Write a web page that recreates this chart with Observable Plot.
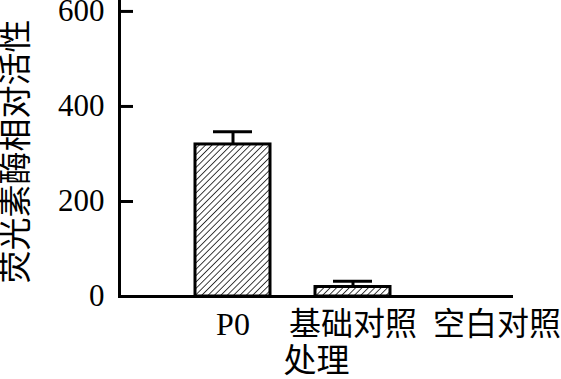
<!DOCTYPE html>
<html>
<head>
<meta charset="utf-8">
<script src="https://cdn.jsdelivr.net/npm/d3@7"></script>
<script src="https://cdn.jsdelivr.net/npm/@observablehq/plot@0.6"></script>
<style>
  html, body { margin: 0; padding: 0; background: #fff; }
</style>
</head>
<body>
<div id="chart"></div>
<script>
const categories = ["P0", "基础对照", "空白对照"];
const values = [320, 20, 0];
const errors = [27, 12, 0];
const yTicks = [0, 200, 400, 600];
const yLabel = "荧光素酶相对活性";
const xLabel = "处理";

const data = categories.map((c, i) => ({cat: c, value: values[i], top: values[i] + errors[i]}));
const font = "'Liberation Serif', 'Noto Sans CJK SC', serif";

const svg = Plot.plot({
  width: 561,
  height: 379,
  marginLeft: 119,
  marginRight: 48,
  marginTop: 0,
  marginBottom: 83,
  style: {fontFamily: font, background: "#fff", color: "#000"},
  x: {type: "band", domain: categories, range: [150, 555], padding: 0.375, label: null},
  y: {domain: [0, 623], label: null},
  marks: [
    Plot.barY(data, {x: "cat", y: "value", fill: "url(#hatch)", stroke: "black", strokeWidth: 3}),
    Plot.ruleX(data, {x: "cat", y1: "value", y2: "top", stroke: "black", strokeWidth: 3}),
    Plot.tickY(data, {x: "cat", y: "top", stroke: "black", strokeWidth: 3, insetLeft: 18, insetRight: 18}),
    Plot.ruleY([0], {stroke: "black", strokeWidth: 3}),
    Plot.frame({anchor: "left", stroke: "black", strokeWidth: 3}),
    Plot.axisY({ticks: yTicks, tickSize: 14, dx: 14, strokeWidth: 3, tickFormat: () => "", label: null}),
    Plot.axisY({ticks: yTicks, tickSize: 0, tickPadding: 15, fontSize: 31, fontFamily: font, label: null}),
    Plot.axisX({ticks: categories.slice(0, 2), tickSize: 0, tickPadding: 16, fontSize: 32, fontFamily: font, label: null}),
    Plot.axisX({ticks: categories.slice(2), tickSize: 0, tickPadding: 16, dx: 24, fontSize: 32, fontFamily: font, label: null}),
    Plot.text([yLabel], {text: d => d, frameAnchor: "left", textAnchor: "middle", lineAnchor: "middle", rotate: -90, dx: -103, dy: 3, fontSize: 33, fontFamily: font, fill: "black"}),
    Plot.text([xLabel], {text: d => d, frameAnchor: "bottom", textAnchor: "middle", lineAnchor: "middle", dy: 65, fontSize: 33, fontFamily: font, fill: "black"})
  ]
});

const defs = d3.select(svg).insert("defs", ":first-child");
const pat = defs.append("pattern")
  .attr("id", "hatch")
  .attr("patternUnits", "userSpaceOnUse")
  .attr("width", 4.5)
  .attr("height", 4.5)
  .attr("patternTransform", "rotate(45)");
pat.append("rect").attr("width", 4.5).attr("height", 4.5).attr("fill", "#fff");
pat.append("line").attr("x1", 0).attr("y1", 0).attr("x2", 0).attr("y2", 4.5)
  .attr("stroke", "#000").attr("stroke-width", 1.5);

document.getElementById("chart").appendChild(svg);
</script>
</body>
</html>
